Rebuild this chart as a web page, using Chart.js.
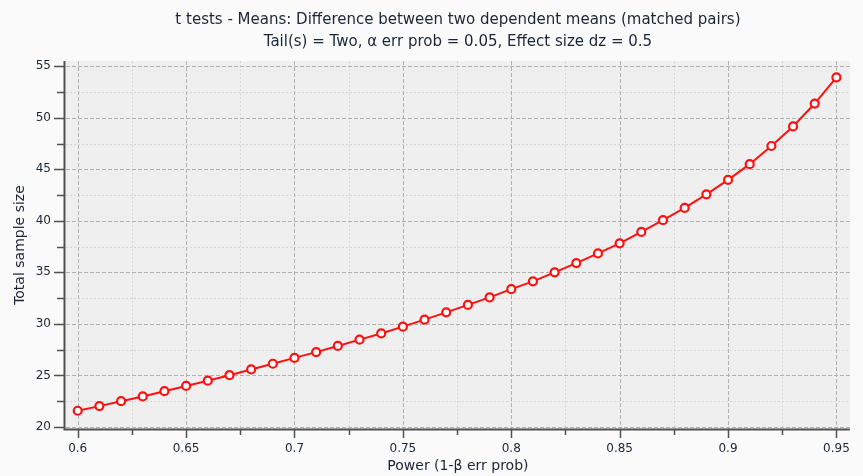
<!DOCTYPE html>
<html><head><meta charset="utf-8">
<script src="https://cdn.jsdelivr.net/npm/chart.js@4.4.1/dist/chart.umd.min.js"></script>
<style>html,body{margin:0;padding:0;background:#fafafa;} canvas{display:block;}</style>
</head><body>
<canvas id="c" width="863" height="476"></canvas>
<script>
// ---- data ----
const powerValues = [0.60,0.61,0.62,0.63,0.64,0.65,0.66,0.67,0.68,0.69,0.70,0.71,0.72,0.73,0.74,0.75,0.76,0.77,0.78,0.79,0.80,0.81,0.82,0.83,0.84,0.85,0.86,0.87,0.88,0.89,0.90,0.91,0.92,0.93,0.94,0.95];
const totalSampleSize = [21.57,22.02,22.50,22.96,23.47,23.98,24.49,25.02,25.58,26.13,26.70,27.26,27.86,28.47,29.07,29.73,30.41,31.12,31.84,32.57,33.37,34.13,35.00,35.90,36.84,37.82,38.92,40.06,41.25,42.57,43.98,45.50,47.26,49.16,51.38,53.92];
const xMajorTicks = [0.6,0.65,0.7,0.75,0.8,0.85,0.9,0.95];
const xMinorTicks = [0.625,0.675,0.725,0.775,0.825,0.875,0.925];
const yMajorTicks = [20,25,30,35,40,45,50,55];
const yMinorTicks = [22.5,27.5,32.5,37.5,42.5,47.5,52.5];
const titleLines = ["t tests - Means: Difference between two dependent means (matched pairs)", "Tail(s) = Two, α err prob = 0.05, Effect size dz = 0.5"];
const xTitle = "Power (1-β err prob)";
const yTitle = "Total sample size";

const FONT = "'DejaVu Sans', sans-serif";
const TXT = '#1c2535';

const framePlugin = {
  id: 'frame',
  beforeDatasetsDraw(chart) {
    const {ctx, chartArea: a, scales: {x, y}} = chart;
    ctx.save();
    ctx.fillStyle = '#efefef';
    ctx.fillRect(a.left, a.top, a.right - a.left, a.bottom - a.top);
    const vline = (v, color, dash) => {
      const px = Math.round(x.getPixelForValue(v)) + 0.5;
      ctx.strokeStyle = color; ctx.setLineDash(dash); ctx.lineWidth = 1;
      ctx.beginPath(); ctx.moveTo(px, a.top); ctx.lineTo(px, a.bottom); ctx.stroke();
    };
    const hline = (v, color, dash) => {
      const py = Math.round(y.getPixelForValue(v)) + 0.5;
      ctx.strokeStyle = color; ctx.setLineDash(dash); ctx.lineWidth = 1;
      ctx.beginPath(); ctx.moveTo(a.left, py); ctx.lineTo(a.right, py); ctx.stroke();
    };
    xMinorTicks.forEach(v => vline(v, '#d6d6d6', [2, 2]));
    yMinorTicks.forEach(v => hline(v, '#d6d6d6', [2, 2]));
    xMajorTicks.forEach(v => vline(v, '#b0b0b0', [4, 2]));
    yMajorTicks.forEach(v => hline(v, '#b0b0b0', [4, 2]));
    ctx.restore();
  },
  afterDatasetsDraw(chart) {
    const {ctx, chartArea: a, scales: {x, y}} = chart;
    ctx.save();
    ctx.setLineDash([]);
    ctx.strokeStyle = '#505050';
    ctx.lineWidth = 2;
    ctx.beginPath();
    ctx.moveTo(a.left - 1.5, a.top); ctx.lineTo(a.left - 1.5, a.bottom + 1);
    ctx.moveTo(a.left - 2.5, a.bottom + 0.5); ctx.lineTo(a.right, a.bottom + 0.5);
    ctx.stroke();
    ctx.lineWidth = 1.5;
    ctx.beginPath();
    yMajorTicks.forEach(v => { const py = Math.round(y.getPixelForValue(v)) + 0.5; ctx.moveTo(a.left - 12, py); ctx.lineTo(a.left - 2, py); });
    yMinorTicks.forEach(v => { const py = Math.round(y.getPixelForValue(v)) + 0.5; ctx.moveTo(a.left - 9, py); ctx.lineTo(a.left - 2, py); });
    xMajorTicks.forEach(v => { const px = Math.round(x.getPixelForValue(v)) + 0.5; ctx.moveTo(px, a.bottom + 1); ctx.lineTo(px, a.bottom + 9); });
    xMinorTicks.forEach(v => { const px = Math.round(x.getPixelForValue(v)) + 0.5; ctx.moveTo(px, a.bottom + 1); ctx.lineTo(px, a.bottom + 6); });
    ctx.stroke();
    ctx.restore();
  }
};

new Chart(document.getElementById('c'), {
  type: 'line',
  data: {
    datasets: [{
      data: powerValues.map((p, i) => ({x: p, y: totalSampleSize[i]})),
      borderColor: '#ff1010',
      borderWidth: 2,
      pointRadius: 4,
      pointBorderWidth: 2.2,
      pointBackgroundColor: '#ffffff',
      pointBorderColor: '#ff1010',
      tension: 0,
      clip: false
    }]
  },
  options: {
    responsive: false,
    animation: false,
    layout: {padding: {left: 0, right: 12, top: 0, bottom: 0}},
    plugins: {
      legend: {display: false},
      tooltip: {enabled: false},
      title: {
        display: true,
        fullSize: false,
        text: titleLines,
        color: TXT,
        font: {family: FONT, size: 15, weight: 'normal', lineHeight: 1.47},
        padding: {top: 9, bottom: 8}
      }
    },
    scales: {
      x: {
        type: 'linear',
        min: 0.5946, max: 0.9562,
        afterBuildTicks: s => { s.ticks = xMajorTicks.map(v => ({value: v})); },
        afterFit: s => { s.height = 47; },
        grid: {display: false, drawTicks: false},
        border: {display: false},
        ticks: {
          color: TXT, padding: 13, maxRotation: 0, autoSkip: false,
          font: {family: FONT, size: 12},
          callback: v => String(+(+v).toFixed(3))
        },
        title: {display: true, text: xTitle, color: TXT, font: {family: FONT, size: 14}, padding: {top: 0, bottom: 1.5}}
      },
      y: {
        type: 'linear',
        min: 19.8, max: 55.5,
        afterBuildTicks: s => { s.ticks = yMajorTicks.map(v => ({value: v})); },
        afterFit: s => { s.width = 66; },
        grid: {display: false, drawTicks: false},
        border: {display: false},
        ticks: {
          color: TXT, padding: 15, autoSkip: false,
          font: {family: FONT, size: 12},
          callback: v => String(v)
        },
        title: {display: true, text: yTitle, color: TXT, font: {family: FONT, size: 14}, padding: {top: 11.5, bottom: 0}}
      }
    }
  },
  plugins: [framePlugin]
});
</script>
</body></html>
